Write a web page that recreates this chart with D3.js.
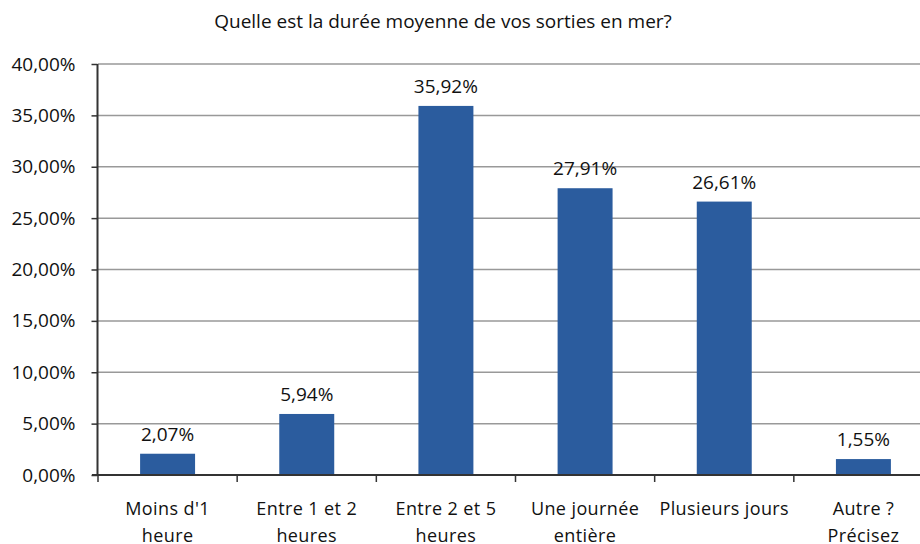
<!DOCTYPE html>
<html lang="fr">
<head>
  <meta charset="UTF-8">
  <title>Durée des sorties</title>
  <style>
    body { margin: 0; padding: 0; background: #fff; }
    svg text { font-family: "Open Sans", sans-serif; fill: #111; }
  </style>
</head>
<body>
  <svg id="chart" width="920" height="544"></svg>
  <script src="https://d3js.org/d3.v7.min.js"></script>
  <script>
    const categories = [
      ["Moins d'1", "heure"],
      ["Entre 1 et 2", "heures"],
      ["Entre 2 et 5", "heures"],
      ["Une journée", "entière"],
      ["Plusieurs jours"],
      ["Autre ?", "Précisez"]
    ];
    const values = [2.07, 5.94, 35.92, 27.91, 26.61, 1.55];
    const yTicks = [0, 5, 10, 15, 20, 25, 30, 35, 40];

    const svg = d3.select('#chart');
    const plotLeft = 98, plotRight = 933, plotTop = 64, plotBottom = 475;

    const xScale = d3.scaleBand()
      .domain(d3.range(categories.length))
      .range([plotLeft, plotRight]);

    const yScale = d3.scaleLinear()
      .domain([0, 40])
      .range([plotBottom, plotTop]);

    const fmt = v => v.toFixed(2).replace('.', ',') + '%';

    // Gridlines
    svg.append('g')
      .selectAll('line')
      .data(yTicks.filter(d => d > 0))
      .enter()
      .append('line')
      .attr('x1', plotLeft)
      .attr('x2', plotRight)
      .attr('y1', d => yScale(d))
      .attr('y2', d => yScale(d))
      .attr('stroke', '#999')
      .attr('stroke-width', 1.5);

    // Bars
    const barW = xScale.bandwidth() * 0.395;
    svg.append('g')
      .selectAll('rect')
      .data(values)
      .enter()
      .append('rect')
      .attr('x', (d, i) => xScale(i) + xScale.bandwidth() / 2 - barW / 2)
      .attr('y', d => yScale(d))
      .attr('width', barW)
      .attr('height', d => plotBottom - yScale(d))
      .attr('fill', '#2B5C9E');

    // Value labels
    svg.append('g')
      .selectAll('text')
      .data(values)
      .enter()
      .append('text')
      .attr('x', (d, i) => xScale(i) + xScale.bandwidth() / 2)
      .attr('y', d => yScale(d) - 13)
      .attr('text-anchor', 'middle')
      .style('font-size', '19px')
      .text(fmt);

    // Y axis
    const yAxis = d3.axisLeft(yScale)
      .tickValues(yTicks)
      .tickSize(6)
      .tickPadding(16)
      .tickFormat(fmt);
    const yG = svg.append('g')
      .attr('transform', `translate(${plotLeft - 0.5}, 0)`)
      .call(yAxis);
    yG.select('.domain').attr('stroke', '#333').attr('stroke-width', 2).attr('d', `M0,${plotTop}V${plotBottom}`);
    yG.selectAll('.tick line').attr('stroke', '#333').attr('stroke-width', 1.5);
    yG.selectAll('.tick text')
      .style('font-size', '19px')
      .style('font-family', '"Open Sans", sans-serif')
      .attr('fill', '#111');

    // X axis
    const xG = svg.append('g')
      .attr('transform', `translate(0, ${plotBottom})`);
    xG.append('line')
      .attr('x1', plotLeft - 6)
      .attr('x2', plotRight)
      .attr('stroke', '#333')
      .attr('stroke-width', 2);
    xG.selectAll('.xtick')
      .data(d3.range(categories.length + 1))
      .enter()
      .append('line')
      .attr('x1', i => (i < categories.length ? xScale(i) : plotRight))
      .attr('x2', i => (i < categories.length ? xScale(i) : plotRight))
      .attr('y1', 0)
      .attr('y2', 7)
      .attr('stroke', '#333')
      .attr('stroke-width', 1.5);

    const labels = xG.selectAll('.xlabel')
      .data(categories)
      .enter()
      .append('text')
      .attr('text-anchor', 'middle')
      .style('font-size', '18px')
      .style('letter-spacing', '0.4px');
    labels.selectAll('tspan')
      .data((d, i) => d.map(t => ({ t, i })))
      .enter()
      .append('tspan')
      .attr('x', d => xScale(d.i) + xScale.bandwidth() / 2)
      .attr('y', (d, j) => 40 + j * 27)
      .text(d => d.t);

    // Title
    svg.append('text')
      .attr('x', 443)
      .attr('y', 28)
      .attr('text-anchor', 'middle')
      .style('font-size', '19px')
      .text('Quelle est la durée moyenne de vos sorties en mer?');
  </script>
</body>
</html>
